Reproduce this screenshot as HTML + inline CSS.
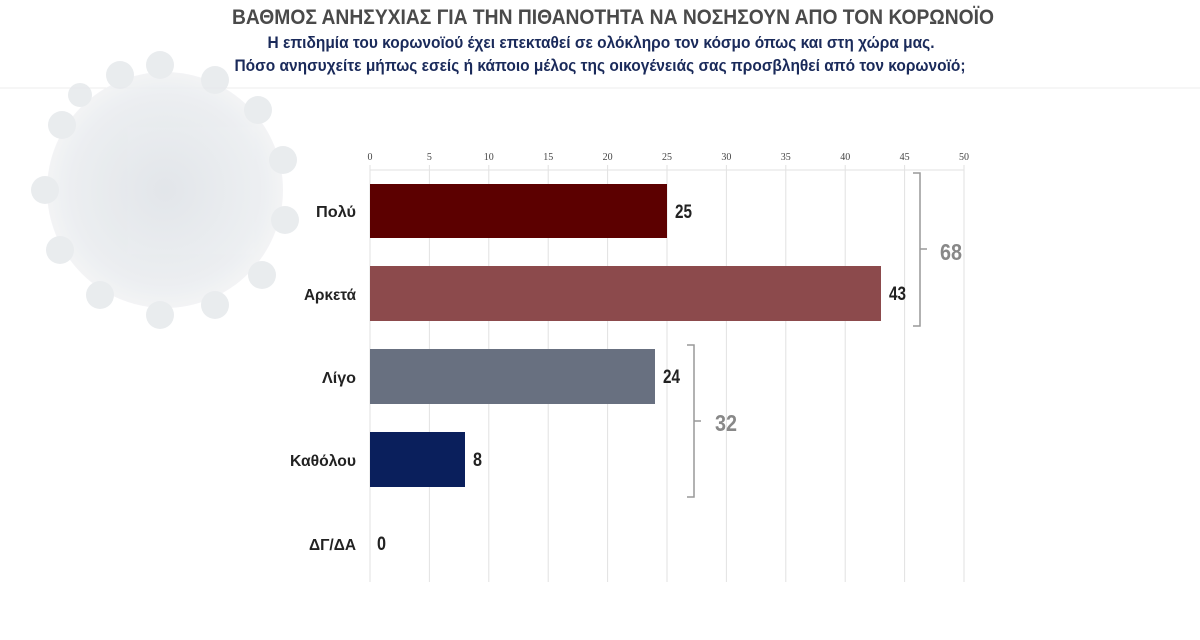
<!DOCTYPE html>
<html><head><meta charset="utf-8"><style>
body{margin:0;background:#fff;width:1200px;height:635px;overflow:hidden}
</style></head><body>
<svg width="1200" height="635" xmlns="http://www.w3.org/2000/svg">
<defs><radialGradient id="v" cx="50%" cy="50%" r="50%">
<stop offset="0" stop-color="#dde1e6"/><stop offset="0.8" stop-color="#e9ecef"/><stop offset="1" stop-color="#f1f2f4"/></radialGradient></defs>
<line x1="0" y1="88" x2="1200" y2="88" stroke="#eee" stroke-width="1"/>
<g opacity="0.85">
<circle cx="165" cy="190" r="118" fill="url(#v)"/>
<g fill="#e6e9ec">
<circle cx="120" cy="75" r="14"/><circle cx="160" cy="65" r="14"/><circle cx="215" cy="80" r="14"/>
<circle cx="258" cy="110" r="14"/><circle cx="283" cy="160" r="14"/><circle cx="285" cy="220" r="14"/>
<circle cx="262" cy="275" r="14"/><circle cx="215" cy="305" r="14"/><circle cx="160" cy="315" r="14"/>
<circle cx="100" cy="295" r="14"/><circle cx="60" cy="250" r="14"/><circle cx="45" cy="190" r="14"/>
<circle cx="62" cy="125" r="14"/><circle cx="80" cy="95" r="12"/>
</g></g>
<g font-family="'Liberation Sans',sans-serif" font-weight="bold" text-anchor="middle">
<text x="613" y="24" font-size="21" fill="#4a4a4a" textLength="762" lengthAdjust="spacingAndGlyphs">ΒΑΘΜΟΣ ΑΝΗΣΥΧΙΑΣ ΓΙΑ ΤΗΝ ΠΙΘΑΝΟΤΗΤΑ ΝΑ ΝΟΣΗΣΟΥΝ ΑΠΟ ΤΟΝ ΚΟΡΩΝΟΪΟ</text>
<text x="601" y="48" font-size="16.5" fill="#1a2a5a" textLength="667" lengthAdjust="spacingAndGlyphs">Η επιδημία του κορωνοϊού έχει επεκταθεί σε ολόκληρο τον κόσμο όπως και στη χώρα μας.</text>
<text x="600" y="71" font-size="16.5" fill="#1a2a5a" textLength="731" lengthAdjust="spacingAndGlyphs">Πόσο ανησυχείτε μήπως εσείς ή κάποιο μέλος της οικογένειάς σας προσβληθεί από τον κορωνοϊό;</text>
</g>
<g stroke="#e2e2e2" stroke-width="1">
<line x1="370" y1="170" x2="964" y2="170"/>
<line x1="370" y1="165" x2="370" y2="582"/><line x1="429.4" y1="165" x2="429.4" y2="582"/>
<line x1="488.8" y1="165" x2="488.8" y2="582"/><line x1="548.2" y1="165" x2="548.2" y2="582"/>
<line x1="607.6" y1="165" x2="607.6" y2="582"/><line x1="667" y1="165" x2="667" y2="582"/>
<line x1="726.4" y1="165" x2="726.4" y2="582"/><line x1="785.8" y1="165" x2="785.8" y2="582"/>
<line x1="845.2" y1="165" x2="845.2" y2="582"/><line x1="904.6" y1="165" x2="904.6" y2="582"/>
<line x1="964" y1="165" x2="964" y2="582"/>
</g>
<g font-family="'Liberation Serif',serif" font-size="10" fill="#444" text-anchor="middle">
<text x="370" y="160">0</text><text x="429.4" y="160">5</text><text x="488.8" y="160">10</text>
<text x="548.2" y="160">15</text><text x="607.6" y="160">20</text><text x="667" y="160">25</text>
<text x="726.4" y="160">30</text><text x="785.8" y="160">35</text><text x="845.2" y="160">40</text>
<text x="904.6" y="160">45</text><text x="964" y="160">50</text>
</g>
<rect x="370" y="184" width="297" height="54" fill="#5c0000"/>
<rect x="370" y="266" width="511" height="55" fill="#8c4a4c"/>
<rect x="370" y="349" width="285" height="55" fill="#687080"/>
<rect x="370" y="432" width="95" height="55" fill="#0a1f5c"/>
<g font-family="'Liberation Sans',sans-serif" font-weight="bold" font-size="19" fill="#222">
<text x="675" y="218" textLength="17" lengthAdjust="spacingAndGlyphs">25</text>
<text x="889" y="300" textLength="17" lengthAdjust="spacingAndGlyphs">43</text>
<text x="663" y="383" textLength="17" lengthAdjust="spacingAndGlyphs">24</text>
<text x="473" y="466" textLength="9" lengthAdjust="spacingAndGlyphs">8</text>
<text x="377" y="550" textLength="9" lengthAdjust="spacingAndGlyphs">0</text>
</g>
<g font-family="'Liberation Sans',sans-serif" font-weight="bold" font-size="16" fill="#222" text-anchor="end">
<text x="356" y="217" textLength="40" lengthAdjust="spacingAndGlyphs">Πολύ</text>
<text x="356" y="300" textLength="52" lengthAdjust="spacingAndGlyphs">Αρκετά</text>
<text x="356" y="383" textLength="34" lengthAdjust="spacingAndGlyphs">Λίγο</text>
<text x="356" y="466" textLength="66" lengthAdjust="spacingAndGlyphs">Καθόλου</text>
<text x="356" y="550" textLength="47" lengthAdjust="spacingAndGlyphs">ΔΓ/ΔΑ</text>
</g>
<g stroke="#999" stroke-width="1.5" fill="none">
<path d="M913 173 H920 V326 H913 M920 249 H927"/>
<path d="M687 345 H694 V497 H687 M694 421 H701"/>
</g>
<g font-family="'Liberation Sans',sans-serif" font-weight="bold" font-size="23" fill="#888">
<text x="940" y="260" textLength="22" lengthAdjust="spacingAndGlyphs">68</text>
<text x="715" y="431" textLength="22" lengthAdjust="spacingAndGlyphs">32</text>
</g>
</svg>
</body></html>
